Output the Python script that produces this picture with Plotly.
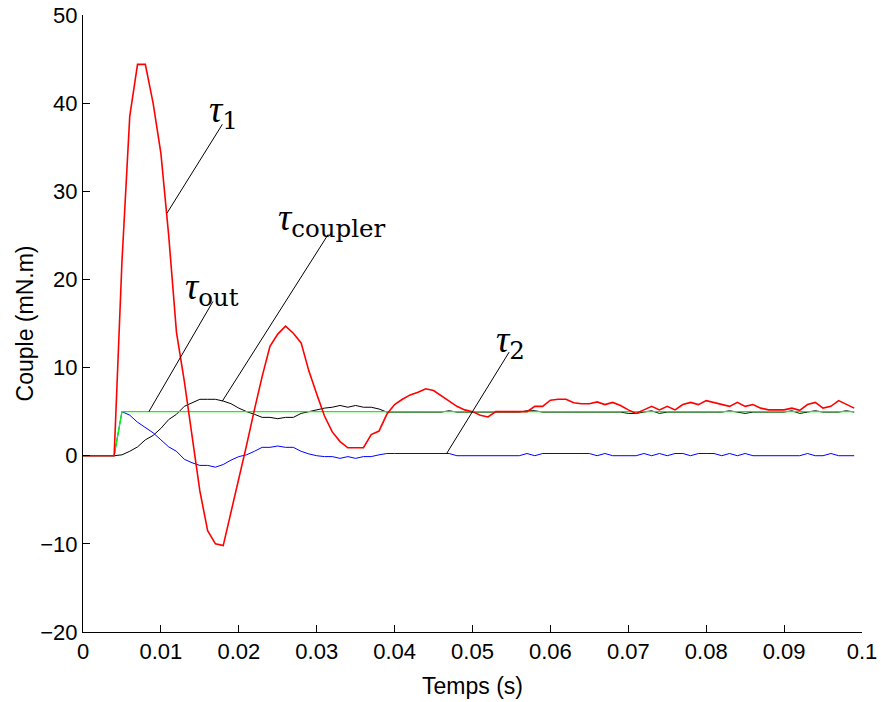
import plotly.graph_objects as go

# time in seconds (sampling 1 ms)
time_ms = list(range(0, 100))
time_s = [t / 1000 for t in time_ms]

tau1 = [0, 0, 0, 0, 0, 22, 38.5, 44.4, 44.4, 40.0,
        34.3, 25.0, 14.0, 8.5, 2.0, -4.0, -8.5, -10.0, -10.2, -6.5,
        -2.6, 1.2, 5.2, 9.0, 12.4, 13.8, 14.7, 13.9, 12.8, 9.6,
        7.0, 4.5, 2.7, 1.6, 0.9, 0.9, 0.9, 2.4, 2.8, 4.7,
        5.8, 6.4, 6.9, 7.2, 7.6, 7.4, 6.8, 6.1, 5.6, 5.2,
        5.0, 4.6, 4.4, 5.0, 5.0, 5.0, 5.0, 5.0, 5.6, 5.6,
        6.3, 6.4, 6.4, 6.0, 5.9, 5.9, 6.1, 5.8, 6.05, 5.7,
        5.2, 4.8, 5.2, 5.6, 5.2, 5.6, 5.2, 5.8, 6.05, 5.8,
        6.25, 6.05, 5.8, 5.6, 6.05, 5.6, 5.8, 5.4, 5.2, 5.2,
        5.2, 5.4, 5.15, 5.8, 6.05, 5.4, 5.6, 6.25, 5.8, 5.4]

tau2 = [0, 0, 0, 0, 0, 5.0, 4.6, 3.8, 3.2, 2.6,
        1.8, 1.0, 0.5, -0.4, -0.8, -1.1, -1.1, -1.3, -1.0, -0.5,
        -0.1, 0.1, 0.5, 0.95, 0.95, 1.1, 0.95, 0.95, 0.5, 0.2,
        0.0, -0.1, -0.1, -0.3, -0.1, -0.3, -0.1, -0.1, 0.1, 0.25,
        0.25, 0.25, 0.25, 0.25, 0.25, 0.25, 0.25, 0.25, 0.0, 0.0,
        0.0, 0.0, 0.0, 0.0, 0.0, 0.0, 0.0, 0.25, 0.0, 0.25,
        0.25, 0.25, 0.25, 0.25, 0.25, 0.25, 0.0, 0.25, 0.0, 0.0,
        0.0, 0.0, 0.25, 0.0, 0.25, 0.0, 0.25, 0.25, 0.0, 0.25,
        0.25, 0.25, 0.0, 0.25, 0.0, 0.25, 0.0, 0.0, 0.0, 0.0,
        0.0, 0.0, 0.0, 0.25, 0.0, 0.0, 0.25, 0.0, 0.0, 0.0]

tau_coupler = [0, 0, 0, 0, 0, 0.1, 0.5, 1.0, 1.8, 2.3,
               3.1, 4.1, 4.7, 5.6, 6.0, 6.4, 6.4, 6.4, 6.2, 5.9,
               5.4, 5.0, 4.7, 4.35, 4.35, 4.2, 4.35, 4.35, 4.8, 5.0,
               5.2, 5.4, 5.5, 5.7, 5.5, 5.7, 5.5, 5.5, 5.3, 4.95,
               4.95, 4.95, 4.95, 4.95, 4.95, 4.95, 4.95, 5.1, 4.95, 4.95,
               4.95, 4.95, 4.95, 4.95, 4.95, 4.95, 4.95, 5.1, 5.1, 4.95,
               4.95, 4.95, 4.95, 4.95, 4.95, 4.95, 4.95, 4.95, 4.95, 4.95,
               4.8, 4.8, 4.95, 5.1, 4.8, 4.95, 4.95, 4.95, 4.95, 4.95,
               4.95, 4.95, 4.95, 5.1, 4.95, 4.8, 4.95, 4.95, 4.95, 4.95,
               4.95, 5.1, 4.8, 4.95, 5.1, 4.95, 4.95, 4.95, 5.1, 4.95]

tau_out = [0, 0, 0, 0, 0] + [5.0] * 95

x_ticks = [0, 0.01, 0.02, 0.03, 0.04, 0.05, 0.06, 0.07, 0.08, 0.09, 0.1]
x_tick_labels = ["0", "0.01", "0.02", "0.03", "0.04", "0.05", "0.06", "0.07", "0.08", "0.09", "0.1"]
y_ticks = [-20, -10, 0, 10, 20, 30, 40, 50]

# annotation labels: symbol, subscript, label position, leader line (from, to)
label_subs = ["1", "out", "coupler", "2"]
label_x = [0.0180, 0.0166, 0.0320, 0.0549]
label_y = [39.0, 18.9, 26.7, 12.9]
line_x0 = [0.01789, 0.01668, 0.03147, 0.0547]
line_y0 = [37.6, 17.5, 25.1, 11.75]
line_x1 = [0.01077, 0.00846, 0.01789, 0.04668]
line_y1 = [27.5, 5.0, 6.2, 0.25]

fig = go.Figure()
fig.add_trace(go.Scatter(x=time_s, y=tau_coupler, mode="lines",
                         line=dict(color="black", width=1), showlegend=False))
fig.add_trace(go.Scatter(x=time_s, y=tau2, mode="lines",
                         line=dict(color="#0000ff", width=1), showlegend=False))
fig.add_trace(go.Scatter(x=time_s, y=tau_out, mode="lines",
                         line=dict(color="#00ff00", width=1.3), showlegend=False))
fig.add_trace(go.Scatter(x=time_s, y=tau1, mode="lines",
                         line=dict(color="#ff0000", width=1.6), showlegend=False))

for i in range(len(label_subs)):
    fig.add_shape(type="line", xref="x", yref="y",
                  x0=line_x0[i], y0=line_y0[i], x1=line_x1[i], y1=line_y1[i],
                  line=dict(color="black", width=1))
    txt = ("<i><span style=\"font-family:'Liberation Serif';font-size:37px\">τ</span></i>"
           "<sub>" + label_subs[i] + "</sub>")
    fig.add_annotation(x=label_x[i], y=label_y[i], xref="x", yref="y",
                       text=txt, showarrow=False,
                       font=dict(family="DejaVu Serif", size=35, color="black"),
                       xanchor="center", yanchor="middle")

tick_font = dict(family="Liberation Sans, Arial, sans-serif", size=22, color="black")
title_font = dict(family="Liberation Sans, Arial, sans-serif", size=23, color="black")

fig.add_annotation(x=0.5, y=-0.0875, xref="paper", yref="paper",
                   text="Temps (s)", showarrow=False, font=title_font,
                   xanchor="center", yanchor="middle")
fig.add_annotation(x=-0.0745, y=0.5, xref="paper", yref="paper",
                   text="Couple (mN.m)", showarrow=False, font=title_font,
                   textangle=-90, xanchor="center", yanchor="middle")

fig.update_layout(
    width=881, height=702,
    margin=dict(l=83, r=19, t=15, b=70),
    paper_bgcolor="white", plot_bgcolor="white",
    xaxis=dict(range=[0, 0.1], tickvals=x_ticks, ticktext=x_tick_labels,
               ticks="inside", ticklen=7, tickcolor="black", showgrid=False,
               zeroline=False, showline=True, linecolor="black", linewidth=1,
               tickfont=tick_font, automargin=False, ticklabeloverflow="allow"),
    yaxis=dict(range=[-20, 50], tickvals=y_ticks,
               ticks="inside", ticklen=7, tickcolor="black", showgrid=False,
               zeroline=False, showline=True, linecolor="black", linewidth=1,
               tickfont=tick_font, automargin=False, ticklabeloverflow="allow"),
)

# remove the default 8 px page margin so the figure fills the window exactly
fig.write_html("out.html", config={"displayModeBar": False},
               post_script="document.body.style.margin='0';")
